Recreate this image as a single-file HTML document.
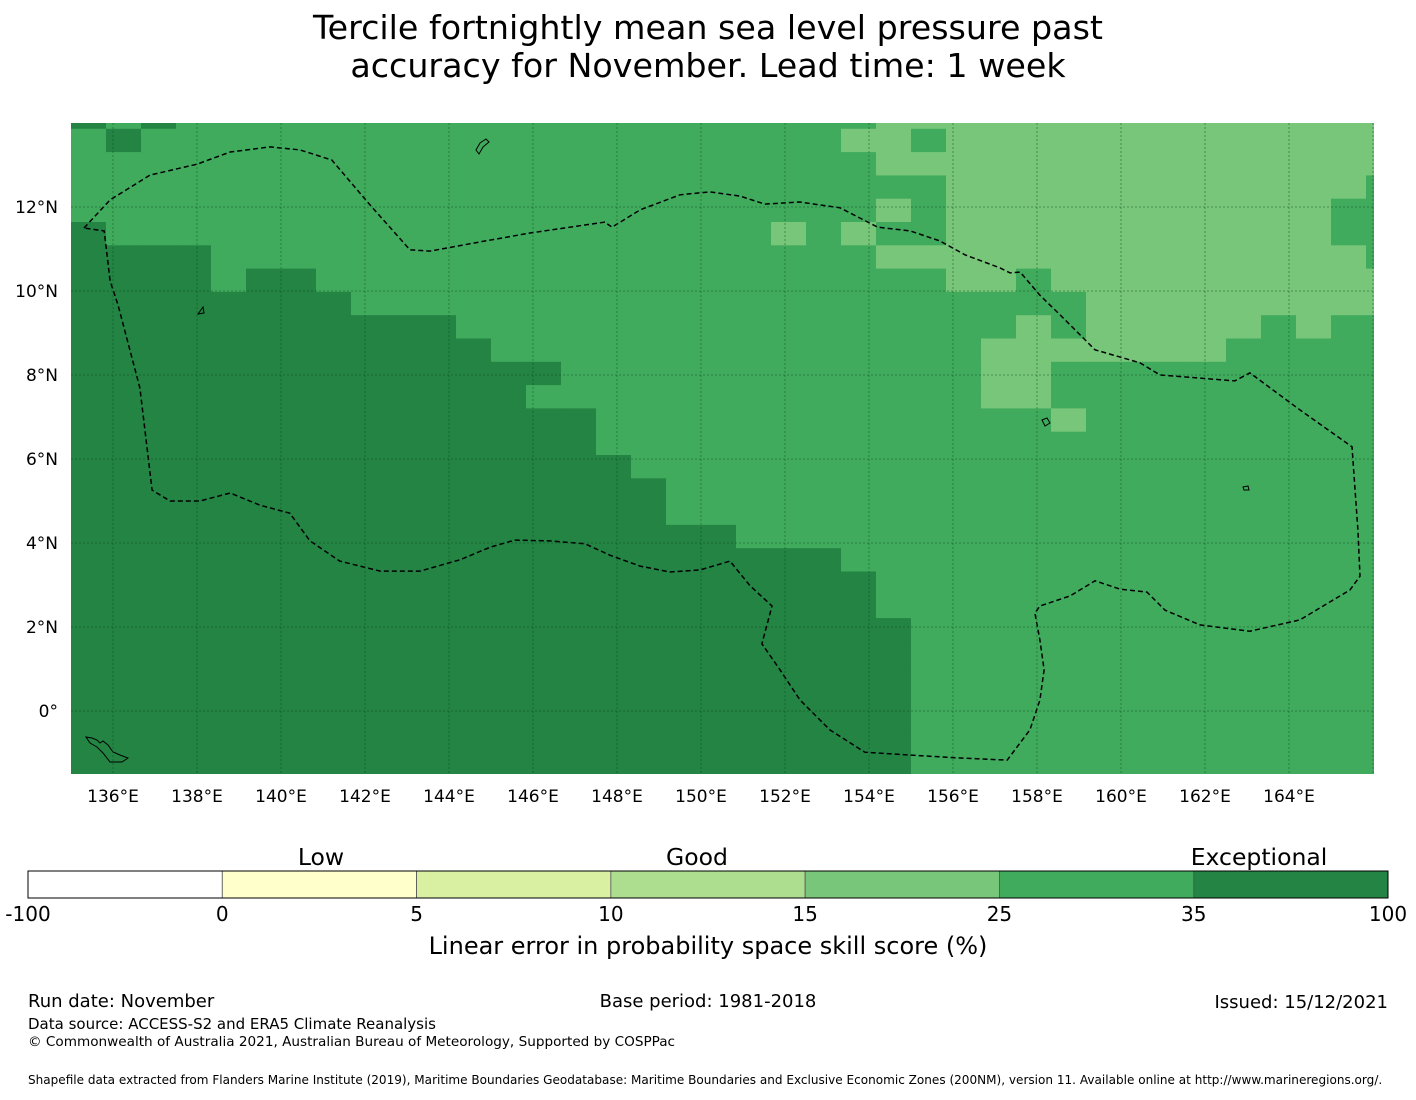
<!DOCTYPE html>
<html><head><meta charset="utf-8">
<style>
body{margin:0;background:#fff;width:1416px;height:1095px;overflow:hidden;font-family:"Liberation Sans","DejaVu Sans",sans-serif;}
svg text{font-family:"DejaVu Sans","Liberation Sans",sans-serif;}
</style></head>
<body>
<svg id="chart" width="1416" height="1095" viewBox="0 0 1416 1095" xmlns="http://www.w3.org/2000/svg">
<text x="708" y="39" font-size="33.3" text-anchor="middle">Tercile fortnightly mean sea level pressure past</text>
<text x="708" y="77" font-size="33.3" text-anchor="middle">accuracy for November. Lead time: 1 week</text>
<g id="map"></g>
<g id="cbar"></g>
<text x="708" y="954" font-size="24" text-anchor="middle">Linear error in probability space skill score (%)</text>
<text x="28" y="1007" font-size="18">Run date: November</text>
<text x="708" y="1007" font-size="18" text-anchor="middle">Base period: 1981-2018</text>
<text x="1388" y="1008" font-size="18" text-anchor="end">Issued: 15/12/2021</text>
<text x="28" y="1029" font-size="15">Data source: ACCESS-S2 and ERA5 Climate Reanalysis</text>
<text x="28" y="1046" font-size="13.6">© Commonwealth of Australia 2021, Australian Bureau of Meteorology, Supported by COSPPac</text>
<text x="28" y="1084" font-size="12.05">Shapefile data extracted from Flanders Marine Institute (2019), Maritime Boundaries Geodatabase: Maritime Boundaries and Exclusive Economic Zones (200NM), version 11. Available online at http://www.marineregions.org/.</text>
</svg>
<script>
// grid categories per row (d=35-100, m=25-35, l=15-25); top partial row first
const gridRows = [
"dmdmmmmmmmmmmmmmmmmmmmmlllllllllllllll",
"mdmmmmmmmmmmmmmmmmmmmmllmlllllllllllll",
"mmmmmmmmmmmmmmmmmmmmmmmlllllllllllllll",
"mmmmmmmmmmmmmmmmmmmmmmmmmllllllllllllm",
"mmmmmmmmmmmmmmmmmmmmmmmlmlllllllllllmm",
"dmmmmmmmmmmmmmmmmmmmlmlmmlllllllllllmm",
"ddddmmmmmmmmmmmmmmmmmmmllllllllllllllm",
"ddddmddmmmmmmmmmmmmmmmmmmllmllllllllll",
"ddddddddmmmmmmmmmmmmmmmmmmmmmlllllllll",
"dddddddddddmmmmmmmmmmmmmmmmlmlllllmlmm",
"ddddddddddddmmmmmmmmmmmmmmlllllllmmmmm",
"ddddddddddddddmmmmmmmmmmmmllmmmmmmmmmm",
"dddddddddddddmmmmmmmmmmmmmllmmmmmmmmmm",
"dddddddddddddddmmmmmmmmmmmmmlmmmmmmmmm",
"dddddddddddddddmmmmmmmmmmmmmmmmmmmmmmm",
"ddddddddddddddddmmmmmmmmmmmmmmmmmmmmmm",
"dddddddddddddddddmmmmmmmmmmmmmmmmmmmmm",
"dddddddddddddddddmmmmmmmmmmmmmmmmmmmmm",
"dddddddddddddddddddmmmmmmmmmmmmmmmmmmm",
"ddddddddddddddddddddddmmmmmmmmmmmmmmmm",
"dddddddddddddddddddddddmmmmmmmmmmmmmmm",
"dddddddddddddddddddddddmmmmmmmmmmmmmmm",
"ddddddddddddddddddddddddmmmmmmmmmmmmmm",
"ddddddddddddddddddddddddmmmmmmmmmmmmmm",
"ddddddddddddddddddddddddmmmmmmmmmmmmmm",
"ddddddddddddddddddddddddmmmmmmmmmmmmmm",
"ddddddddddddddddddddddddmmmmmmmmmmmmmm",
"ddddddddddddddddddddddddmmmmmmmmmmmmmm",
"ddddddddddddddddddddddddmmmmmmmmmmmmmm"
];
const lonTicks = [136,138,140,142,144,146,148,150,152,154,156,158,160,162,164];
const latTicks = [0,2,4,6,8,10,12];
const eezLon = [135.31,135.93,136.88,138,138.79,139.74,140.45,141.21,142.12,143.07,143.55,144.74,145.93,147.71,147.88,148.55,149.5,150.21,150.93,151.52,152.35,153.31,154.21,154.98,155.69,156.29,157.12,157.36,157.6,158.07,158.55,159.38,160.45,160.93,162.71,163.07,164.26,165.5,165.64,165.69,165.45,164.26,163.07,161.88,161.05,160.62,159.98,159.38,158.79,158.07,157.95,158.07,158.17,158.07,157.83,157.29,156.17,154.98,153.9,153.07,152.36,151.88,151.45,151.69,151.17,150.69,149.98,149.26,148.55,147.83,147.24,146.4,145.57,144.98,144.26,143.31,142.36,141.4,140.69,140.21,139.5,138.79,138.07,137.36,136.93,136.64,136.12,135.93,135.79,135.31];
const eezLat = [11.5,12.17,12.76,13.02,13.31,13.43,13.36,13.12,12.05,10.98,10.95,11.17,11.38,11.64,11.52,11.93,12.29,12.36,12.26,12.07,12.12,11.98,11.52,11.43,11.19,10.86,10.55,10.43,10.45,9.9,9.43,8.6,8.29,8.0,7.86,8.05,7.17,6.29,4.31,3.21,2.88,2.17,1.9,2.05,2.4,2.83,2.9,3.1,2.74,2.5,2.33,1.69,0.98,0.26,-0.45,-1.17,-1.12,-1.05,-0.98,-0.45,0.26,0.98,1.6,2.5,2.98,3.57,3.36,3.31,3.45,3.71,3.98,4.05,4.07,3.9,3.6,3.33,3.33,3.57,4.05,4.71,4.9,5.19,5.0,5.0,5.26,7.69,9.67,10.24,11.43,11.5];
const cbBounds = ["-100","0","5","10","15","25","35","100"];
const cbColors = ["#ffffff","#ffffcc","#d9f0a3","#addd8e","#78c679","#41ab5d","#238443"];
const cbCategories = ["Low","Good","Exceptional"];

const NS="http://www.w3.org/2000/svg";
function mk(tag, attrs, parent){const e=document.createElementNS(NS,tag);for(const k in attrs)e.setAttribute(k,attrs[k]);parent.appendChild(e);return e;}
const X0=71,X1=1374,Y0=123,Y1=774,LON0=135,PX=42;
const xOf = lon => X0+(lon-LON0)*PX;
const yOf = lat => 711-lat*PX;
const colW=35, rowH=23.3, rowStart=128.8;
const catColor={d:"#238443",m:"#41ab5d",l:"#78c679"};
const map=document.getElementById('map');
const clip=mk('clipPath',{id:'mclip'},map);
mk('rect',{x:X0,y:Y0,width:X1-X0,height:Y1-Y0},clip);
const cells=mk('g',{'clip-path':'url(#mclip)'},map);
gridRows.forEach((row,r)=>{
  const y = r===0 ? Y0 : rowStart+(r-1)*rowH;
  const h = r===0 ? rowStart-Y0 : rowH;
  for(let c=0;c<row.length;c++){
    const el=mk('rect',{x:X0+c*colW,y:y,width:colW+0.5,height:h+0.5,fill:catColor[row[c]]},cells);
    
    
  }
});
lonTicks.concat([166]).forEach(l=>{
  const ln=mk('line',{x1:xOf(l),x2:xOf(l),y1:Y0,y2:Y1,stroke:'#0b4a22','stroke-width':0.8,'stroke-dasharray':'2,2','opacity':0.6},map);
  
  
});
latTicks.forEach(l=>{
  const ln=mk('line',{x1:X0,x2:X1,y1:yOf(l),y2:yOf(l),stroke:'#0b4a22','stroke-width':0.8,'stroke-dasharray':'2,2','opacity':0.6},map);
  
  
});
let d=eezLon.map((lo,i)=>(i?'L':'M')+xOf(lo).toFixed(1)+','+yOf(eezLat[i]).toFixed(1)).join(' ');
const eez=mk('path',{d:d,fill:'none',stroke:'#000','stroke-width':1.5,'stroke-dasharray':'5,3'},cells);


const isl=mk('path',{d:'M86,737 L92,738 L97,740 L100,743 L103,741 L108,745 L113,752 L120,755 L128,758 L122,762 L110,762 L103,753 L97,747 L90,743 Z M476,150 L480,143 L486,139 L489,142 L483,147 L479,154 Z M1042,420 L1047,418 L1050,423 L1045,426 Z M1243,487 L1248,486 L1249,490 L1244,490 Z M198,314 L203,307 L204,313 Z',fill:'none',stroke:'#000','stroke-width':1},cells);


lonTicks.forEach(l=>{
  const t=mk('text',{x:xOf(l),y:802,'font-size':17,'text-anchor':'middle'},map);
  t.textContent=l+'°E';
  
  
});
latTicks.forEach(l=>{
  const t=mk('text',{x:58,y:yOf(l)+6,'font-size':17,'text-anchor':'end'},map);
  t.textContent=l===0?'0°':l+'°N';
  
  
});
const cb=document.getElementById('cbar');
const CB0=28,CB1=1388,CBY=871,CBH=27,segW=(CB1-CB0)/cbColors.length;
cbColors.forEach((c,i)=>{
  const r=mk('rect',{x:CB0+i*segW,y:CBY,width:segW,height:CBH,fill:c,stroke:'#555','stroke-width':0.8},cb);
  
  
});
mk('rect',{x:CB0,y:CBY,width:CB1-CB0,height:CBH,fill:'none',stroke:'#000','stroke-width':1},cb);
cbBounds.forEach((b,i)=>{
  const t=mk('text',{x:CB0+i*segW,y:921,'font-size':20,'text-anchor':'middle'},cb);
  t.textContent=b;
  
  
});
const catX=[321,697,1259];
cbCategories.forEach((c,i)=>{
  const t=mk('text',{x:catX[i],y:865,'font-size':23.5,'text-anchor':'middle'},cb);
  t.textContent=c;
  
  
});
</script>
</body></html>
